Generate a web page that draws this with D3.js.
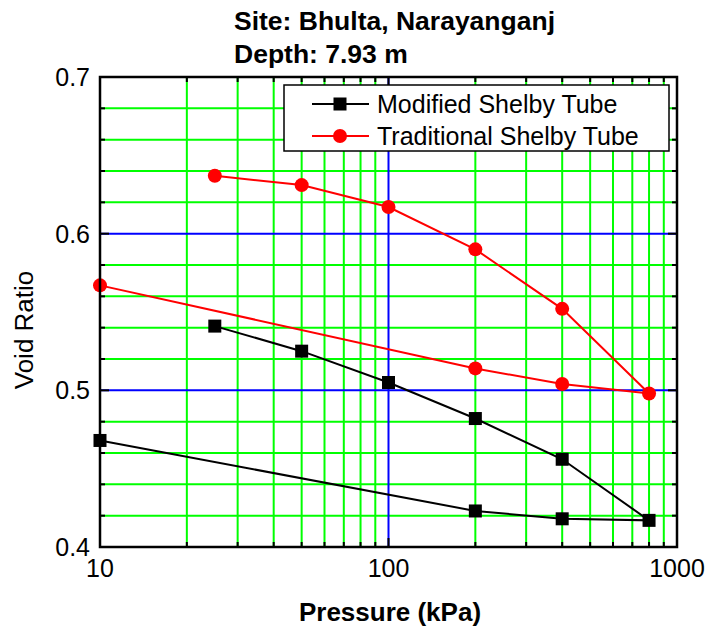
<!DOCTYPE html>
<html>
<head>
<meta charset="utf-8">
<script src="https://cdn.jsdelivr.net/npm/d3@7"></script>
<style>
  html, body { margin: 0; padding: 0; background: #fff; }
  svg { display: block; font-family: Arial, "Liberation Sans", sans-serif; }
</style>
</head>
<body>
<svg id="chart" width="711" height="635"></svg>
<script>
// ---- data ----
const titleLines = ["Site: Bhulta, Narayanganj", "Depth: 7.93 m"];
const xTitle = "Pressure (kPa)";
const yTitle = "Void Ratio";
const seriesNames = ["Modified Shelby Tube", "Traditional Shelby Tube"];
const pressure = [25, 50, 100, 200, 400, 800, 400, 200, 10];
const modifiedVoid = [0.541, 0.525, 0.505, 0.482, 0.456, 0.417, 0.418, 0.423, 0.468];
const traditionalVoid = [0.637, 0.631, 0.617, 0.590, 0.552, 0.498, 0.504, 0.514, 0.567];
const xTickValues = [10, 100, 1000];
const xTickLabels = ["10", "100", "1000"];
const yTickValues = [0.4, 0.5, 0.6, 0.7];
const yTickLabels = ["0.4", "0.5", "0.6", "0.7"];
const xMinor = [20, 30, 40, 50, 60, 70, 80, 90, 200, 300, 400, 500, 600, 700, 800, 900];
const yMinor = [0.42, 0.44, 0.46, 0.48, 0.52, 0.54, 0.56, 0.58, 0.62, 0.64, 0.66, 0.68];

// ---- layout ----
const L = 100, R = 677, T = 77, B = 547;
const svg = d3.select("#chart");
const x = d3.scaleLog().domain([10, 1000]).range([L, R]);
const y = d3.scaleLinear().domain([0.4, 0.7]).range([B, T]);

// grid
const grid = svg.append("g");
grid.selectAll("line.gx").data(xMinor).join("line")
  .attr("x1", d => x(d)).attr("x2", d => x(d)).attr("y1", T).attr("y2", B)
  .attr("stroke", "#00ff00").attr("stroke-width", 2);
grid.selectAll("line.gy").data(yMinor).join("line")
  .attr("y1", d => y(d)).attr("y2", d => y(d)).attr("x1", L).attr("x2", R)
  .attr("stroke", "#00ff00").attr("stroke-width", 2);
grid.selectAll("line.bx").data([100]).join("line")
  .attr("x1", d => x(d)).attr("x2", d => x(d)).attr("y1", T).attr("y2", B)
  .attr("stroke", "#0000ff").attr("stroke-width", 2);
grid.selectAll("line.by").data([0.5, 0.6]).join("line")
  .attr("y1", d => y(d)).attr("y2", d => y(d)).attr("x1", L).attr("x2", R)
  .attr("stroke", "#0000ff").attr("stroke-width", 2);

// data
const line = d3.line().x(d => x(d[0])).y(d => y(d[1]));
const modPts = pressure.map((p, i) => [p, modifiedVoid[i]]);
const tradPts = pressure.map((p, i) => [p, traditionalVoid[i]]);

svg.append("path").datum(modPts).attr("d", line)
  .attr("fill", "none").attr("stroke", "#000").attr("stroke-width", 2);
svg.append("path").datum(tradPts).attr("d", line)
  .attr("fill", "none").attr("stroke", "#ff0000").attr("stroke-width", 2);

const sq = 13;
svg.append("g").selectAll("rect").data(modPts).join("rect")
  .attr("x", d => x(d[0]) - sq / 2).attr("y", d => y(d[1]) - sq / 2)
  .attr("width", sq).attr("height", sq).attr("fill", "#000");
svg.append("g").selectAll("circle").data(tradPts).join("circle")
  .attr("cx", d => x(d[0])).attr("cy", d => y(d[1])).attr("r", 7)
  .attr("fill", "#ff0000");

// axes (ticks inward on all sides)
const ax = svg.append("g");
const majorLen = 9, minorLen = 5;
function xTicks(yPos, dir) {
  ax.append("g").selectAll("line").data(xTickValues).join("line")
    .attr("x1", d => x(d)).attr("x2", d => x(d))
    .attr("y1", yPos).attr("y2", yPos + dir * majorLen)
    .attr("stroke", "#000").attr("stroke-width", 2);
  ax.append("g").selectAll("line").data(xMinor).join("line")
    .attr("x1", d => x(d)).attr("x2", d => x(d))
    .attr("y1", yPos).attr("y2", yPos + dir * minorLen)
    .attr("stroke", "#000").attr("stroke-width", 2);
}
function yTicks(xPos, dir) {
  ax.append("g").selectAll("line").data(yTickValues).join("line")
    .attr("y1", d => y(d)).attr("y2", d => y(d))
    .attr("x1", xPos).attr("x2", xPos + dir * majorLen)
    .attr("stroke", "#000").attr("stroke-width", 2);
  ax.append("g").selectAll("line").data(yMinor).join("line")
    .attr("y1", d => y(d)).attr("y2", d => y(d))
    .attr("x1", xPos).attr("x2", xPos + dir * minorLen)
    .attr("stroke", "#000").attr("stroke-width", 2);
}
xTicks(B, -1); xTicks(T, 1); yTicks(L, 1); yTicks(R, -1);
ax.append("rect").attr("x", L).attr("y", T).attr("width", R - L).attr("height", B - T)
  .attr("fill", "none").attr("stroke", "#000").attr("stroke-width", 2.5);

// tick labels
svg.append("g").selectAll("text").data(xTickValues).join("text")
  .attr("x", d => x(d)).attr("y", 577).attr("text-anchor", "middle")
  .attr("font-size", 25).attr("fill", "#000").text((d, i) => xTickLabels[i]);
svg.append("g").selectAll("text").data(yTickValues).join("text")
  .attr("x", 90).attr("y", d => y(d) + 9).attr("text-anchor", "end")
  .attr("font-size", 25).attr("fill", "#000").text((d, i) => yTickLabels[i]);

// axis titles
svg.append("text").attr("x", 390).attr("y", 621).attr("text-anchor", "middle")
  .attr("font-size", 26).attr("font-weight", "bold").text(xTitle);
svg.append("text").attr("transform", "translate(33,330) rotate(-90)")
  .attr("text-anchor", "middle").attr("font-size", 26).text(yTitle);

// title
svg.append("g").selectAll("text").data(titleLines).join("text")
  .attr("x", 234).attr("y", (d, i) => 30 + i * 33)
  .attr("font-size", 26.5).attr("font-weight", "bold").text(d => d);

// legend
const lg = svg.append("g");
lg.append("rect").attr("x", 284).attr("y", 85).attr("width", 385).attr("height", 66)
  .attr("fill", "#fff").attr("stroke", "#000").attr("stroke-width", 1.5);
const rows = [104, 136];
const colors = ["#000", "#ff0000"];
rows.forEach((ry, i) => {
  lg.append("line").attr("x1", 312).attr("x2", 369).attr("y1", ry).attr("y2", ry)
    .attr("stroke", colors[i]).attr("stroke-width", 2);
  if (i === 0) {
    lg.append("rect").attr("x", 340 - sq / 2).attr("y", ry - sq / 2)
      .attr("width", sq).attr("height", sq).attr("fill", "#000");
  } else {
    lg.append("circle").attr("cx", 340).attr("cy", ry).attr("r", 7).attr("fill", "#ff0000");
  }
  lg.append("text").attr("x", 377).attr("y", ry + 9).attr("font-size", 25)
    .text(seriesNames[i]);
});
</script>
</body>
</html>
